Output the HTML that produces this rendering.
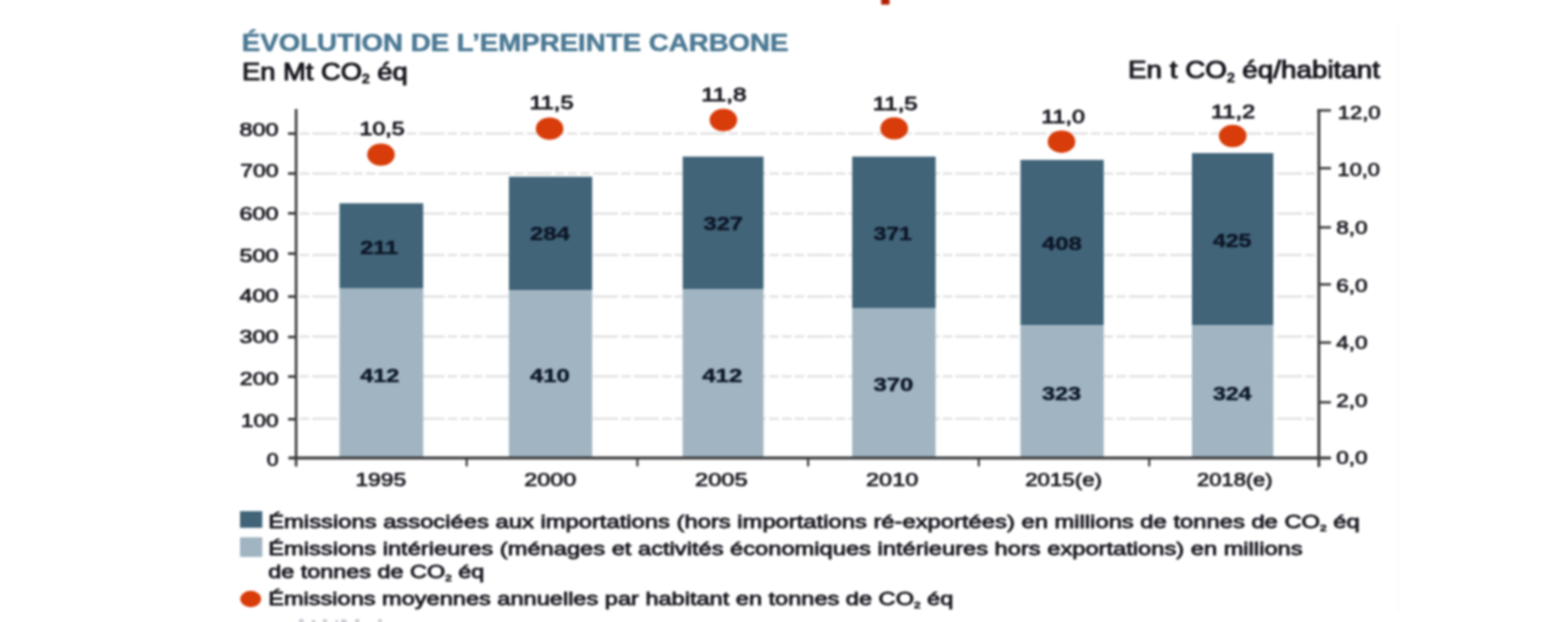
<!DOCTYPE html>
<html lang="fr"><head><meta charset="utf-8"><title>Évolution de l’empreinte carbone</title>
<style>
html,body{margin:0;padding:0;background:#fff;}
body{width:1568px;height:622px;overflow:hidden;}
svg{display:block;font-family:"Liberation Sans",sans-serif;}
.blur{filter:blur(0.8px);}
svg{fill:#15151d;}
.b{font-weight:bold;}
.m{stroke:#15151d;stroke-width:0.72px;stroke-linejoin:round;}
.h{stroke:#15151d;stroke-width:1.0px;stroke-linejoin:round;}
.l{stroke:#15151d;stroke-width:0.8px;stroke-linejoin:round;}
.p{stroke:#15151d;stroke-width:0.85px;stroke-linejoin:round;}
.k{stroke:#0c1626;stroke-width:0.45px;stroke-linejoin:round;}
.t{stroke:#4a7893;stroke-width:0.5px;stroke-linejoin:round;}
</style></head><body>
<svg width="1568" height="622" viewBox="0 0 1568 622">
<rect width="1568" height="622" fill="#fff"/>
<g class="blur">
<line x1="1398" x2="1398" y1="24" y2="612" stroke="#f6f6f6" stroke-width="1"/>
<rect x="881.2" y="-2" width="8.3" height="6.6" fill="#b02000"/>
<line x1="299.6" x2="1317" y1="133.4" y2="133.4" stroke="#e3e3e3" stroke-width="2.5" stroke-dasharray="9.5 3.2 25 3.2 9.5 3.2 9.5 3.2 9.5 3.2 25 3.2"/>
<line x1="299.6" x2="1317" y1="173.5" y2="173.5" stroke="#e3e3e3" stroke-width="2.5" stroke-dasharray="9.5 3.2 25 3.2 9.5 3.2 9.5 3.2 9.5 3.2 25 3.2"/>
<line x1="299.6" x2="1317" y1="213.4" y2="213.4" stroke="#e3e3e3" stroke-width="2.5" stroke-dasharray="9.5 3.2 25 3.2 9.5 3.2 9.5 3.2 9.5 3.2 25 3.2"/>
<line x1="299.6" x2="1317" y1="255.1" y2="255.1" stroke="#e3e3e3" stroke-width="2.5" stroke-dasharray="9.5 3.2 25 3.2 9.5 3.2 9.5 3.2 9.5 3.2 25 3.2"/>
<line x1="299.6" x2="1317" y1="296.5" y2="296.5" stroke="#e3e3e3" stroke-width="2.5" stroke-dasharray="9.5 3.2 25 3.2 9.5 3.2 9.5 3.2 9.5 3.2 25 3.2"/>
<line x1="299.6" x2="1317" y1="336.6" y2="336.6" stroke="#e3e3e3" stroke-width="2.5" stroke-dasharray="9.5 3.2 25 3.2 9.5 3.2 9.5 3.2 9.5 3.2 25 3.2"/>
<line x1="299.6" x2="1317" y1="376.3" y2="376.3" stroke="#e3e3e3" stroke-width="2.5" stroke-dasharray="9.5 3.2 25 3.2 9.5 3.2 9.5 3.2 9.5 3.2 25 3.2"/>
<line x1="299.6" x2="1317" y1="418.7" y2="418.7" stroke="#e3e3e3" stroke-width="2.5" stroke-dasharray="9.5 3.2 25 3.2 9.5 3.2 9.5 3.2 9.5 3.2 25 3.2"/>
<rect x="339.5" y="203.3" width="83.7" height="85.3" fill="#416479"/>
<rect x="339.5" y="288.6" width="83.7" height="169.5" fill="#a0b4c1"/>
<rect x="508.9" y="176.7" width="83.3" height="113.7" fill="#416479"/>
<rect x="508.9" y="290.4" width="83.3" height="167.7" fill="#a0b4c1"/>
<rect x="682.7" y="156.6" width="80.8" height="132.8" fill="#416479"/>
<rect x="682.7" y="289.4" width="80.8" height="168.7" fill="#a0b4c1"/>
<rect x="852.2" y="156.6" width="83.4" height="151.4" fill="#416479"/>
<rect x="852.2" y="308.0" width="83.4" height="150.1" fill="#a0b4c1"/>
<rect x="1020.5" y="159.9" width="83.2" height="165.3" fill="#416479"/>
<rect x="1020.5" y="325.2" width="83.2" height="132.9" fill="#a0b4c1"/>
<rect x="1192.0" y="153.1" width="81.3" height="172.1" fill="#416479"/>
<rect x="1192.0" y="325.2" width="81.3" height="132.9" fill="#a0b4c1"/>
<line x1="296.1" x2="296.1" y1="109" y2="466.6" stroke="#3a3a3c" stroke-width="2.6"/>
<line x1="288.4" x2="1331" y1="458.1" y2="458.1" stroke="#3a3a3c" stroke-width="3"/>
<line x1="1318.9" x2="1318.9" y1="109.4" y2="467" stroke="#3a3a3c" stroke-width="2.8"/>
<line x1="1317.5" x2="1331" y1="110.4" y2="110.4" stroke="#3a3a3c" stroke-width="2.4"/>
<line x1="288" x2="297" y1="133.6" y2="133.6" stroke="#3a3a3c" stroke-width="2.6"/>
<line x1="288" x2="297" y1="173.5" y2="173.5" stroke="#3a3a3c" stroke-width="2.6"/>
<line x1="288" x2="297" y1="213.3" y2="213.3" stroke="#3a3a3c" stroke-width="2.6"/>
<line x1="288" x2="297" y1="253.6" y2="253.6" stroke="#3a3a3c" stroke-width="2.6"/>
<line x1="288" x2="297" y1="296.6" y2="296.6" stroke="#3a3a3c" stroke-width="2.6"/>
<line x1="288" x2="297" y1="337.0" y2="337.0" stroke="#3a3a3c" stroke-width="2.6"/>
<line x1="288" x2="297" y1="376.6" y2="376.6" stroke="#3a3a3c" stroke-width="2.6"/>
<line x1="288" x2="297" y1="419.2" y2="419.2" stroke="#3a3a3c" stroke-width="2.6"/>
<line x1="466.7" x2="466.7" y1="458" y2="466.4" stroke="#3a3a3c" stroke-width="2.2"/>
<line x1="637.4" x2="637.4" y1="458" y2="466.4" stroke="#3a3a3c" stroke-width="2.2"/>
<line x1="808.1" x2="808.1" y1="458" y2="466.4" stroke="#3a3a3c" stroke-width="2.2"/>
<line x1="978.8" x2="978.8" y1="458" y2="466.4" stroke="#3a3a3c" stroke-width="2.2"/>
<line x1="1149.2" x2="1149.2" y1="458" y2="466.4" stroke="#3a3a3c" stroke-width="2.2"/>
<line x1="1318" x2="1331" y1="168.2" y2="168.2" stroke="#3a3a3c" stroke-width="2.4"/>
<line x1="1318" x2="1331" y1="227.4" y2="227.4" stroke="#3a3a3c" stroke-width="2.4"/>
<line x1="1318" x2="1331" y1="284.4" y2="284.4" stroke="#3a3a3c" stroke-width="2.4"/>
<line x1="1318" x2="1331" y1="342.6" y2="342.6" stroke="#3a3a3c" stroke-width="2.4"/>
<line x1="1318" x2="1331" y1="402.3" y2="402.3" stroke="#3a3a3c" stroke-width="2.4"/>
<text x="241.8" y="50.8" font-size="24.8" textLength="546.7" lengthAdjust="spacingAndGlyphs" class="b t" fill="#4a7893">ÉVOLUTION DE L’EMPREINTE CARBONE</text>
<text x="242.0" y="79.8" font-size="24.2" textLength="165.8" lengthAdjust="spacingAndGlyphs" class="h">En Mt CO<tspan font-size="0.5em" dy="0.3em">2</tspan><tspan dy="-0.15em"> </tspan>éq</text>
<text x="1128.0" y="78.4" font-size="24.2" textLength="252.0" lengthAdjust="spacingAndGlyphs" class="h">En t CO<tspan font-size="0.5em" dy="0.3em">2</tspan><tspan dy="-0.15em"> </tspan>éq/habitant</text>
<text x="239.6" y="135.7" font-size="19.0" textLength="39.0" lengthAdjust="spacingAndGlyphs" class="m">800</text>
<text x="240.3" y="177.2" font-size="19.0" textLength="38.3" lengthAdjust="spacingAndGlyphs" class="m">700</text>
<text x="239.6" y="219.9" font-size="19.0" textLength="39.0" lengthAdjust="spacingAndGlyphs" class="m">600</text>
<text x="239.6" y="261.8" font-size="19.0" textLength="39.0" lengthAdjust="spacingAndGlyphs" class="m">500</text>
<text x="239.6" y="301.7" font-size="19.0" textLength="39.0" lengthAdjust="spacingAndGlyphs" class="m">400</text>
<text x="239.6" y="343.1" font-size="19.0" textLength="39.0" lengthAdjust="spacingAndGlyphs" class="m">300</text>
<text x="239.8" y="385.1" font-size="19.0" textLength="38.8" lengthAdjust="spacingAndGlyphs" class="m">200</text>
<text x="241.0" y="426.5" font-size="19.0" textLength="37.6" lengthAdjust="spacingAndGlyphs" class="m">100</text>
<text x="266.8" y="465.8" font-size="19.0" textLength="11.8" lengthAdjust="spacingAndGlyphs" class="m">0</text>
<text x="1337.8" y="118.8" font-size="19.0" textLength="42.8" lengthAdjust="spacingAndGlyphs" class="m">12,0</text>
<text x="1337.6" y="175.8" font-size="19.0" textLength="42.4" lengthAdjust="spacingAndGlyphs" class="m">10,0</text>
<text x="1336.2" y="234.4" font-size="19.0" textLength="31.4" lengthAdjust="spacingAndGlyphs" class="m">8,0</text>
<text x="1336.2" y="292.3" font-size="19.0" textLength="31.4" lengthAdjust="spacingAndGlyphs" class="m">6,0</text>
<text x="1336.2" y="349.4" font-size="19.0" textLength="31.4" lengthAdjust="spacingAndGlyphs" class="m">4,0</text>
<text x="1336.2" y="407.4" font-size="19.0" textLength="31.4" lengthAdjust="spacingAndGlyphs" class="m">2,0</text>
<text x="1336.2" y="464.2" font-size="19.0" textLength="31.4" lengthAdjust="spacingAndGlyphs" class="m">0,0</text>
<text x="355.4" y="485.8" font-size="19.0" textLength="50.8" lengthAdjust="spacingAndGlyphs" class="m">1995</text>
<text x="524.2" y="485.8" font-size="19.0" textLength="52.1" lengthAdjust="spacingAndGlyphs" class="m">2000</text>
<text x="695.0" y="485.8" font-size="19.0" textLength="52.6" lengthAdjust="spacingAndGlyphs" class="m">2005</text>
<text x="866.1" y="485.8" font-size="19.0" textLength="52.1" lengthAdjust="spacingAndGlyphs" class="m">2010</text>
<text x="1025.2" y="485.8" font-size="19.0" textLength="76.8" lengthAdjust="spacingAndGlyphs" class="m">2015(e)</text>
<text x="1197.1" y="485.8" font-size="19.0" textLength="75.5" lengthAdjust="spacingAndGlyphs" class="m">2018(e)</text>
<text x="360.2" y="253.9" font-size="19.2" textLength="37.8" lengthAdjust="spacingAndGlyphs" class="b k" fill="#0c1626">211</text>
<text x="530.0" y="239.7" font-size="19.2" textLength="39.8" lengthAdjust="spacingAndGlyphs" class="b k" fill="#0c1626">284</text>
<text x="703.6" y="230.4" font-size="19.2" textLength="39.4" lengthAdjust="spacingAndGlyphs" class="b k" fill="#0c1626">327</text>
<text x="873.4" y="240.0" font-size="19.2" textLength="38.6" lengthAdjust="spacingAndGlyphs" class="b k" fill="#0c1626">371</text>
<text x="1041.9" y="250.2" font-size="19.2" textLength="39.8" lengthAdjust="spacingAndGlyphs" class="b k" fill="#0c1626">408</text>
<text x="1212.9" y="246.6" font-size="19.2" textLength="38.6" lengthAdjust="spacingAndGlyphs" class="b k" fill="#0c1626">425</text>
<text x="360.2" y="381.8" font-size="19.2" textLength="39.1" lengthAdjust="spacingAndGlyphs" class="b k" fill="#0c1626">412</text>
<text x="530.0" y="381.8" font-size="19.2" textLength="39.8" lengthAdjust="spacingAndGlyphs" class="b k" fill="#0c1626">410</text>
<text x="702.3" y="381.8" font-size="19.2" textLength="39.9" lengthAdjust="spacingAndGlyphs" class="b k" fill="#0c1626">412</text>
<text x="873.4" y="391.0" font-size="19.2" textLength="39.8" lengthAdjust="spacingAndGlyphs" class="b k" fill="#0c1626">370</text>
<text x="1041.9" y="400.0" font-size="19.2" textLength="39.3" lengthAdjust="spacingAndGlyphs" class="b k" fill="#0c1626">323</text>
<text x="1212.9" y="400.0" font-size="19.2" textLength="38.6" lengthAdjust="spacingAndGlyphs" class="b k" fill="#0c1626">324</text>
<ellipse cx="381.0" cy="154.6" rx="13.8" ry="11.2" fill="#d83c0a"/>
<ellipse cx="549.6" cy="128.6" rx="13.8" ry="11.2" fill="#d83c0a"/>
<ellipse cx="723.4" cy="120.0" rx="13.8" ry="11.2" fill="#d83c0a"/>
<ellipse cx="894.2" cy="128.4" rx="13.8" ry="11.2" fill="#d83c0a"/>
<ellipse cx="1061.5" cy="141.7" rx="13.8" ry="11.2" fill="#d83c0a"/>
<ellipse cx="1232.7" cy="136.0" rx="13.8" ry="11.2" fill="#d83c0a"/>
<text x="359.6" y="135.2" font-size="19.0" textLength="44.9" lengthAdjust="spacingAndGlyphs" class="p">10,5</text>
<text x="529.4" y="108.9" font-size="19.0" textLength="44.1" lengthAdjust="spacingAndGlyphs" class="p">11,5</text>
<text x="701.2" y="101.2" font-size="19.0" textLength="45.4" lengthAdjust="spacingAndGlyphs" class="p">11,8</text>
<text x="872.8" y="110.0" font-size="19.0" textLength="44.9" lengthAdjust="spacingAndGlyphs" class="p">11,5</text>
<text x="1041.3" y="123.0" font-size="19.0" textLength="43.6" lengthAdjust="spacingAndGlyphs" class="p">11,0</text>
<text x="1210.9" y="118.2" font-size="19.0" textLength="44.3" lengthAdjust="spacingAndGlyphs" class="p">11,2</text>
<rect x="240" y="511.2" width="22.3" height="16.6" fill="#416479"/>
<rect x="240" y="537.3" width="22.3" height="19.6" fill="#a0b4c1"/>
<ellipse cx="250.7" cy="599" rx="10.5" ry="8.2" fill="#d83c0a"/>
<text x="268.2" y="528.2" font-size="18.8" textLength="1091.6" lengthAdjust="spacingAndGlyphs" class="l">Émissions associées aux importations (hors importations ré-exportées) en millions de tonnes de CO<tspan font-size="0.5em" dy="0.3em">2</tspan><tspan dy="-0.15em"> </tspan>éq</text>
<text x="268.2" y="555.0" font-size="18.8" textLength="1034.4" lengthAdjust="spacingAndGlyphs" class="l">Émissions intérieures (ménages et activités économiques intérieures hors exportations) en millions</text>
<text x="268.2" y="578.0" font-size="18.8" textLength="216.1" lengthAdjust="spacingAndGlyphs" class="l">de tonnes de CO<tspan font-size="0.5em" dy="0.3em">2</tspan><tspan dy="-0.15em"> </tspan>éq</text>
<text x="268.2" y="605.4" font-size="18.8" textLength="685.1" lengthAdjust="spacingAndGlyphs" class="l">Émissions moyennes annuelles par habitant en tonnes de CO<tspan font-size="0.5em" dy="0.3em">2</tspan><tspan dy="-0.15em"> </tspan>éq</text>
<rect x="299.2" y="619.2" width="4.2" height="4" fill="#c4c4cc"/>
<rect x="311.8" y="620.2" width="3.4" height="4" fill="#c4c4cc"/>
<rect x="323.2" y="619.2" width="3.6" height="4" fill="#c4c4cc"/>
<rect x="335.6" y="620.2" width="2.2" height="4" fill="#c4c4cc"/>
<rect x="341.2" y="619.6" width="5.2" height="4" fill="#c4c4cc"/>
<rect x="355.4" y="619.2" width="3.6" height="4" fill="#c4c4cc"/>
<rect x="378.4" y="619.2" width="3.2" height="4" fill="#c4c4cc"/>
</g></svg></body></html>
